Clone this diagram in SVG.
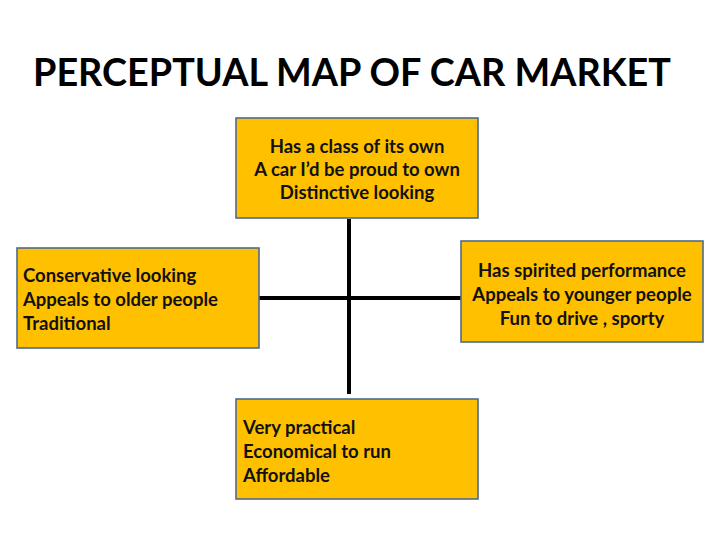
<svg xmlns="http://www.w3.org/2000/svg" width="720" height="540" viewBox="0 0 720 540">
<style>
.box{fill:#FFC000;stroke:#4E6B8A;stroke-width:1.6}
.t{font-family:Lato,"Open Sans","Liberation Sans",sans-serif;font-weight:bold;font-size:18.5px;fill:#111}
.title{font-family:Lato,"Open Sans","Liberation Sans",sans-serif;font-weight:bold;font-size:39px;fill:#000}
.ax{stroke:#000;stroke-width:4;fill:none}
</style>
<rect width="720" height="540" fill="#fff"/>
<text class="title" x="352" y="86" text-anchor="middle" textLength="638" lengthAdjust="spacingAndGlyphs">PERCEPTUAL MAP OF CAR MARKET</text>
<g id="connectors">
<line class="ax" x1="349" y1="219" x2="349" y2="394"/>
<line class="ax" x1="257" y1="298" x2="463" y2="298"/>
</g>
<g id="top">
<rect class="box" x="236" y="118" width="242" height="100"/>
<text class="t" text-anchor="middle" x="357"><tspan x="357" y="153">Has a class of its own</tspan><tspan x="357" y="176">A car I’d be proud to own</tspan><tspan x="357" y="199">Distinctive looking</tspan></text>
</g>
<g id="left">
<rect class="box" x="17" y="248" width="242" height="100"/>
<text class="t" x="23"><tspan x="23" y="282">Conservative looking</tspan><tspan x="23" y="306">Appeals to older people</tspan><tspan x="23" y="330">Traditional</tspan></text>
</g>
<g id="right">
<rect class="box" x="461" y="241" width="242" height="101"/>
<text class="t" text-anchor="middle"><tspan x="582" y="277">Has spirited performance</tspan><tspan x="582" y="301">Appeals to younger people</tspan><tspan x="582" y="325">Fun to drive , sporty</tspan></text>
</g>
<g id="bottom">
<rect class="box" x="236" y="399" width="242" height="100"/>
<text class="t" x="243"><tspan x="243" y="434">Very practical</tspan><tspan x="243" y="458">Economical to run</tspan><tspan x="243" y="482">Affordable</tspan></text>
</g>
</svg>
